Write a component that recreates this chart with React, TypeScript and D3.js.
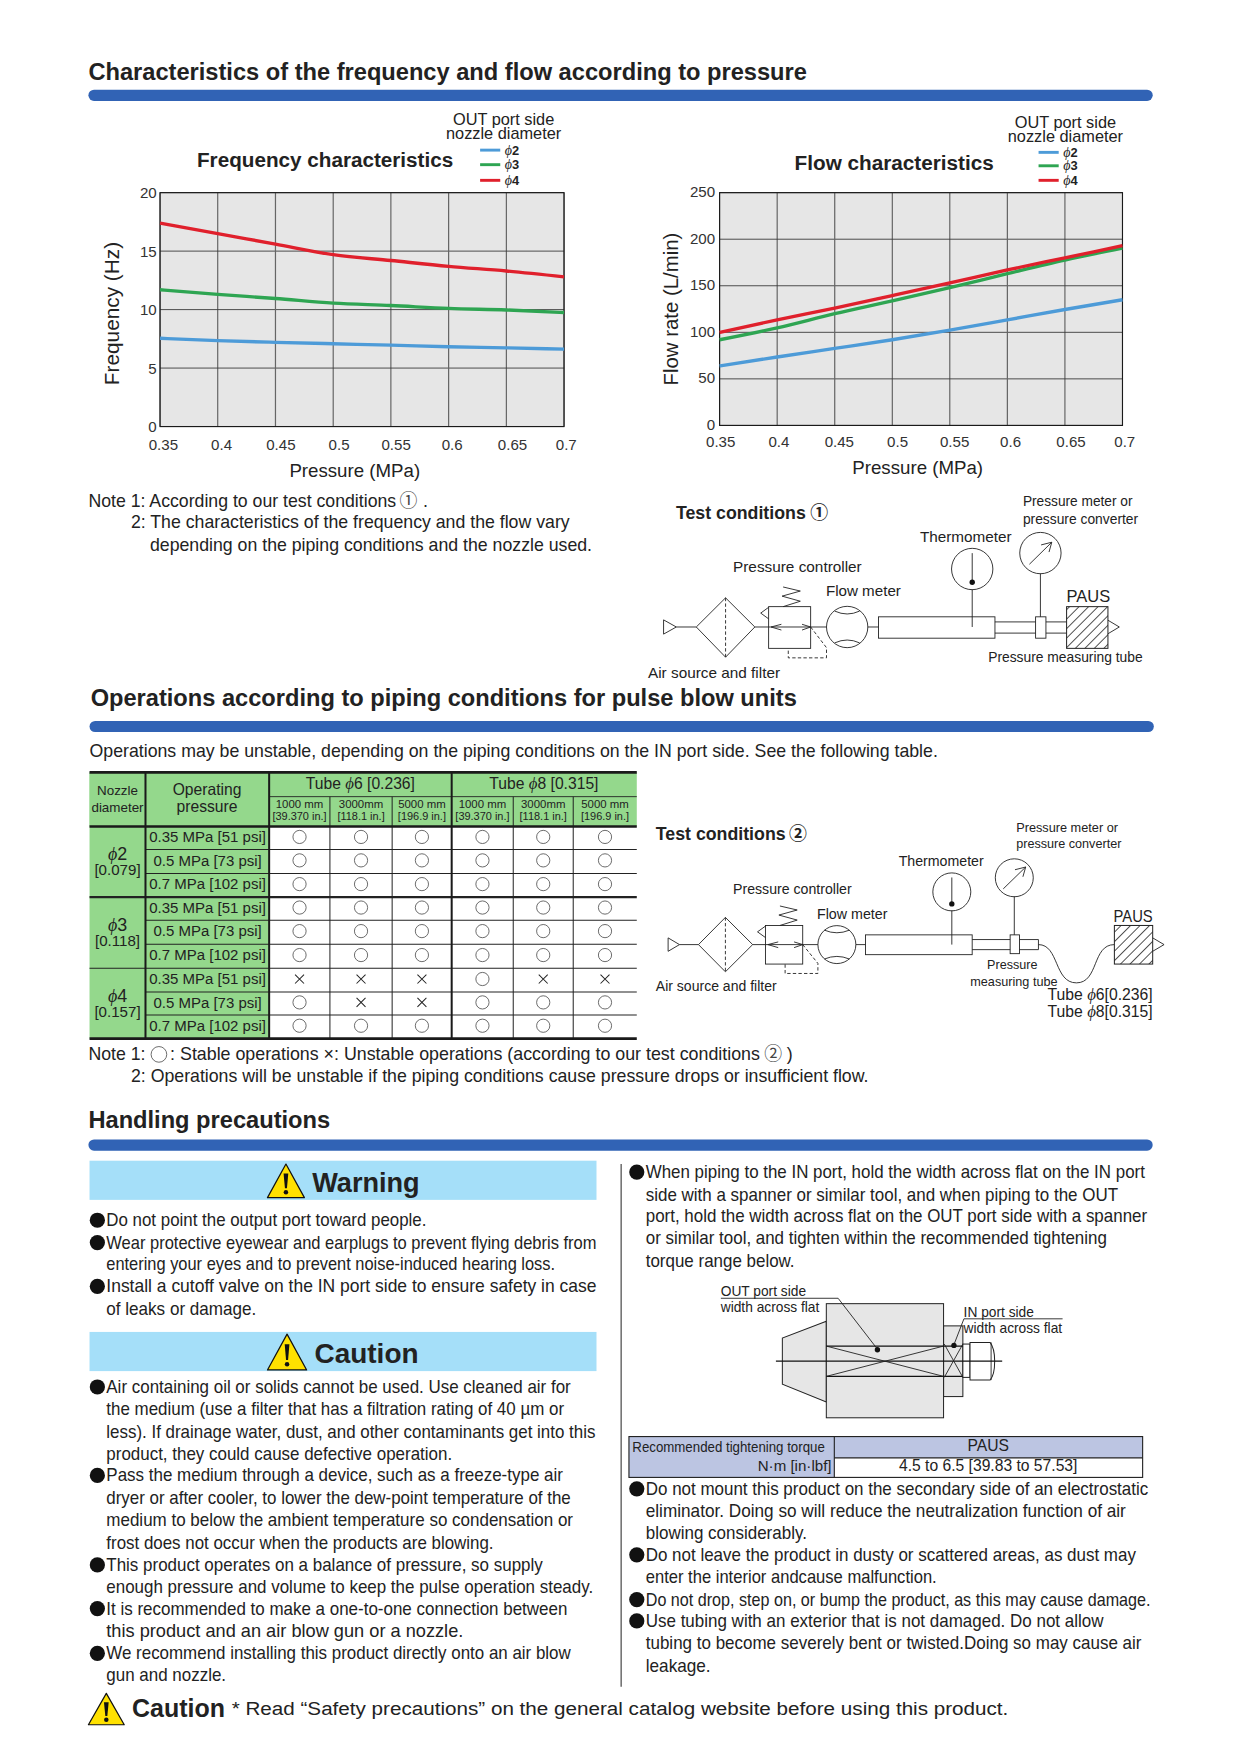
import React from "react";
import * as d3 from "d3";

// ---------- chart data ----------
const PRESSURES = [0.35, 0.4, 0.45, 0.5, 0.55, 0.6, 0.65, 0.7];
const PRESSURE_LABELS = ["0.35", "0.4", "0.45", "0.5", "0.55", "0.6", "0.65", "0.7"];
const FREQ_TICKS = [0, 5, 10, 15, 20];
const FLOW_TICKS = [0, 50, 100, 150, 200, 250];
const FREQ_PHI2 = [7.55, 7.35, 7.2, 7.08, 6.96, 6.82, 6.73, 6.62];
const FREQ_PHI3 = [11.7, 11.3, 10.95, 10.55, 10.35, 10.1, 9.97, 9.75];
const FREQ_PHI4 = [17.4, 16.5, 15.6, 14.7, 14.2, 13.7, 13.3, 12.8];
const FLOW_PHI2 = [63.8, 73.5, 82.7, 92, 102.4, 113.4, 124.5, 135];
const FLOW_PHI3 = [92, 104.8, 120, 133.7, 148, 163, 177.6, 190.4];
const FLOW_PHI4 = [99.9, 113.4, 126, 139.4, 153, 167, 180, 193];
const LEGEND_LABELS = ["2", "3", "4"];
const COLORS = ["#4d9bd8", "#2ea552", "#e0202c"];

// ---------- table data ----------
const TUBE_HEADS = ["6 [0.236]", "8 [0.315]"];
const LENGTH_HEADS = [
  ["1000 mm", "[39.370 in.]"],
  ["3000mm", "[118.1 in.]"],
  ["5000 mm", "[196.9 in.]"],
  ["1000 mm", "[39.370 in.]"],
  ["3000mm", "[118.1 in.]"],
  ["5000 mm", "[196.9 in.]"],
];
const NOZZLES = [["2", "[0.079]"], ["3", "[0.118]"], ["4", "[0.157]"]];
const PRESSURE_ROWS = ["0.35 MPa [51 psi]", "0.5 MPa [73 psi]", "0.7 MPa [102 psi]"];
const STABILITY = [
  [1, 1, 1, 1, 1, 1],
  [1, 1, 1, 1, 1, 1],
  [1, 1, 1, 1, 1, 1],
  [1, 1, 1, 1, 1, 1],
  [1, 1, 1, 1, 1, 1],
  [1, 1, 1, 1, 1, 1],
  [0, 0, 0, 1, 0, 0],
  [1, 0, 0, 1, 1, 1],
  [1, 1, 1, 1, 1, 1],
];

// ---------- text ----------
const LEFT_TEXT = [
  "Do not point the output port toward people.",
  "Wear protective eyewear and earplugs to prevent flying debris from",
  "entering your eyes and to prevent noise-induced hearing loss.",
  "Install a cutoff valve on the IN port side to ensure safety in case",
  "of leaks or damage.",
  "Air containing oil or solids cannot be used. Use cleaned air for",
  "the medium (use a filter that has a filtration rating of 40 µm or",
  "less). If drainage water, dust, and other contaminants get into this",
  "product, they could cause defective operation.",
  "Pass the medium through a device, such as a freeze-type air",
  "dryer or after cooler, to lower the dew-point temperature of the",
  "medium to below the ambient temperature so condensation or",
  "frost does not occur when the products are blowing.",
  "This product operates on a balance of pressure, so supply",
  "enough pressure and volume to keep the pulse operation steady.",
  "It is recommended to make a one-to-one connection between",
  "this product and an air blow gun or a nozzle.",
  "We recommend installing this product directly onto an air blow",
  "gun and nozzle.",
];
const LEFT_LAYOUT = [
  [381, 1091, 1], [533, 1111, 1], [496, 1130, 0], [533, 1150, 1], [229, 1170, 0],
  [510, 1240, 1], [504, 1260, 0], [532, 1280, 0], [404, 1300, 0],
  [503, 1319, 1], [510, 1339, 0], [512, 1359, 0], [441, 1379, 0],
  [485, 1399, 1], [530, 1419, 0], [507, 1438, 1], [414, 1458, 0],
  [510, 1478, 1], [202, 1497, 0],
];
const RIGHT_TEXT = [
  "When piping to the IN port, hold the width across flat on the IN port",
  "side with a spanner or similar tool, and when piping to the OUT",
  "port, hold the width across flat on the OUT port side with a spanner",
  "or similar tool, and tighten within the recommended tightening",
  "torque range below.",
  "Do not mount this product on the secondary side of an electrostatic",
  "eliminator. Doing so will reduce the neutralization function of air",
  "blowing considerably.",
  "Do not leave the product in dusty or scattered areas, as dust may",
  "enter the interior andcause malfunction.",
  "Do not drop, step on, or bump the product, as this may cause damage.",
  "Use tubing with an exterior that is not damaged. Do not allow",
  "tubing to become severely bent or twisted.Doing so may cause air",
  "leakage.",
];
const RIGHT_LAYOUT = [
  [1023, 1048, 1], [999, 1068, 0], [1025, 1087, 0], [989, 1107, 0], [710, 1127, 0],
  [1026, 1331, 1], [1006, 1351, 0], [721, 1370, 0],
  [1015, 1390, 1], [837, 1410, 0], [1028, 1430, 1], [986, 1449, 1], [1020, 1469, 0], [635, 1489, 0],
];

// ---------- helpers ----------
const FONT = "'Liberation Sans', Arial, sans-serif";
const INK = "#222";

function T({ x, y, end, size = 16, weight, anchor, fill = INK, family = FONT, style, rotate, children }: any) {
  return (
    <text
      x={x}
      y={y}
      fontSize={size}
      fontWeight={weight}
      textAnchor={anchor}
      fill={fill}
      fontFamily={family}
      fontStyle={style}
      transform={rotate ? `rotate(${rotate} ${x} ${y})` : undefined}
      textLength={end !== undefined ? end - x : undefined}
      lengthAdjust={end !== undefined ? "spacingAndGlyphs" : undefined}
    >
      {children}
    </text>
  );
}

function Phi({ size }: any) {
  return (
    <tspan fontFamily="'Liberation Serif', 'DejaVu Serif', serif" fontStyle="italic" fontSize={size + 1} fontWeight="normal">
      ϕ
    </tspan>
  );
}

function Bar({ x, y, w }: any) {
  return <rect x={x} y={y} width={w} height={10} rx={5} fill="#3163b5" />;
}

function WarnIcon({ x, y, w, h }: any) {
  const cx = x + w / 2;
  return (
    <g>
      <path d={`M${cx} ${y}L${x + w} ${y + h}L${x} ${y + h}Z`} fill="#ffe100" stroke="#111" strokeWidth={1.1} strokeLinejoin="round" />
      <path d={`M${cx - 2.1} ${y + h * 0.28}L${cx + 2.1} ${y + h * 0.28}L${cx + 0.9} ${y + h * 0.72}L${cx - 0.9} ${y + h * 0.72}Z`} fill="#111" />
      <circle cx={cx} cy={y + h * 0.84} r={2} fill="#111" />
    </g>
  );
}

function Chart({ box, yMax, yTicks, series, xLabelXs, yLabel, yLabelSize, yLabelX, yLabelY, xTitle, xTitleX, xTitleY, tickY, yTickX, yTickDy }: any) {
  const x = d3.scaleLinear().domain([0.35, 0.7]).range([box.l, box.r]);
  const y = d3.scaleLinear().domain([0, yMax]).range([box.b, box.t]);
  const line = d3
    .line<number>()
    .x((_, i) => x(PRESSURES[i]))
    .y((d) => y(d))
    .curve(d3.curveMonotoneX);
  return (
    <g>
      <rect x={box.l} y={box.t} width={box.r - box.l} height={box.b - box.t} fill="#e6e6e6" />
      {yTicks.map((t: number) => (
        <line key={t} x1={box.l} x2={box.r} y1={y(t)} y2={y(t)} stroke="#3a3a3a" strokeWidth={0.8} />
      ))}
      {PRESSURES.map((p, i) => (
        <line key={p} x1={x(p)} x2={x(p)} y1={box.t} y2={box.b} stroke={i === 2 || i === 5 ? "#666" : "#3a3a3a"} strokeWidth={i === 2 || i === 5 ? 1.1 : 0.8} />
      ))}
      <rect x={box.l} y={box.t} width={box.r - box.l} height={box.b - box.t} fill="none" stroke="#1a1a1a" strokeWidth={1} />
      {series.map((s: number[], i: number) => (
        <path key={i} d={line(s) as string} fill="none" stroke={COLORS[i]} strokeWidth={3} />
      ))}
      {yTicks.map((t: number) => (
        <T key={t} x={yTickX} y={y(t) + yTickDy} size={13.5} anchor="end" fill="#333">
          {t}
        </T>
      ))}
      {PRESSURE_LABELS.map((l, i) => (
        <T key={l} x={xLabelXs[i]} y={tickY} size={13.5} anchor="middle" fill="#333">
          {l}
        </T>
      ))}
      <T x={yLabelX} y={yLabelY} size={yLabelSize} anchor="middle" rotate={-90}>
        {yLabel}
      </T>
      <T x={xTitleX} y={xTitleY} size={16.7} anchor="middle">
        {xTitle}
      </T>
    </g>
  );
}

function Legend({ cx, y1, y2, lineX1, lineX2, textX, ys }: any) {
  return (
    <g>
      <T x={cx} y={y1} size={14.6} anchor="middle">OUT port side</T>
      <T x={cx} y={y2} size={14.6} anchor="middle">nozzle diameter</T>
      {LEGEND_LABELS.map((l, i) => (
        <g key={l}>
          <line x1={lineX1} x2={lineX2} y1={ys[i]} y2={ys[i]} stroke={COLORS[i]} strokeWidth={2.6} />
          <T x={textX} y={ys[i] + 4} size={11.5} weight="bold">
            <Phi size={11.5} />
            {l}
          </T>
        </g>
      ))}
    </g>
  );
}

function pathOf(pts: number[][], close = false) {
  return "M" + pts.map((p) => p.join(" ")).join("L") + (close ? "Z" : "");
}

// Schematic drawn in zoom-crop units, mapped to page units
function Schematic({ ax, bx, ay, by, g, hatch }: any) {
  const X = d3.scaleLinear().domain([0, 1]).range([ax, ax + bx]);
  const Y = d3.scaleLinear().domain([0, 1]).range([ay, ay + by]);
  const P = (pts: number[][]) => pts.map(([a, b]) => [X(a), Y(b)]);
  const S = { fill: "none", stroke: "#222", strokeWidth: 0.8 };
  const D = { ...S, strokeDasharray: "3 2" };
  const cy = g.cy;
  const r = g.r * bx;
  return (
    <g>
      <path d={pathOf(P([[g.t0, cy - g.th], [g.t0, cy + g.th], [g.t1, cy]]), true)} {...S} />
      <path d={pathOf(P([[g.t1, cy], [g.dl, cy]]))} {...S} />
      <path d={pathOf(P([[g.dl, cy], [g.dc, g.dt], [g.dr, cy], [g.dc, g.db]]), true)} {...S} />
      <path d={pathOf(P([[g.dc, g.dt], [g.dc, g.db]]))} {...D} />
      <path d={pathOf(P([[g.dr, cy], [g.fc - g.r, cy]]))} {...S} />
      <rect x={X(g.vl)} y={Y(g.vt)} width={X(g.vr) - X(g.vl)} height={Y(g.vb) - Y(g.vt)} {...S} />
      <path d={pathOf(P([[g.vl + 42, g.vt], [g.vl + 92, g.vt - 16], [g.vl + 39, g.vt - 31], [g.vl + 92, g.vt - 46], [g.vl + 42, g.vt - 58]]))} {...S} />
      <path d={pathOf(P([[g.vl, g.vt + 2], [g.vl - 23, g.vt + 19], [g.vl, g.vt + 36]]))} {...S} />
      <path d={pathOf(P([[g.vl + 37, cy - 8], [g.vl + 7, cy], [g.vl + 37, cy + 9]]))} {...S} />
      <path d={pathOf(P([[g.vr - 25, cy - 8], [g.vr, cy], [g.vr - 25, cy + 9]]))} {...S} />
      <path d={pathOf(P([[g.vr, cy], [g.fc - g.r, g.vb - 2], [g.fc - g.r, g.vb + 28], [g.vl + 57, g.vb + 28], [g.vl + 57, g.vb]]))} {...D} />
      <circle cx={X(g.fc)} cy={Y(cy)} r={r} {...S} />
      <path d={`M${X(g.fc - 36)} ${Y(cy - g.r * 0.78)}Q${X(g.fc)} ${Y(cy - g.r * 0.5)} ${X(g.fc + 36)} ${Y(cy - g.r * 0.78)}`} {...S} />
      <path d={`M${X(g.fc - 36)} ${Y(cy + g.r * 0.78)}Q${X(g.fc)} ${Y(cy + g.r * 0.5)} ${X(g.fc + 36)} ${Y(cy + g.r * 0.78)}`} {...S} />
      <path d={pathOf(P([[g.fc + g.r, cy], [g.bl, cy]]))} {...S} />
      <rect x={X(g.bl)} y={Y(g.bt)} width={X(g.br) - X(g.bl)} height={Y(g.bb) - Y(g.bt)} {...S} />
      <path d={pathOf(P([[g.br, g.pt], [g.pe, g.pt]]))} {...S} />
      <path d={pathOf(P([[g.br, g.pb], [g.pe, g.pb]]))} {...S} />
      {g.closePipe && <path d={pathOf(P([[g.pe, g.pt], [g.pe, g.pb]]))} {...S} />}
      <rect x={X(g.cl)} y={Y(g.bt)} width={X(g.cr) - X(g.cl)} height={Y(g.cb) - Y(g.bt)} fill="#fff" stroke="#222" strokeWidth={0.8} />
      {g.tube && <path d={`M${X(g.pe)} ${Y(cy)}C${X(g.pe + 60)} ${Y(cy)} ${X(g.pe + 45)} ${Y(g.tube)} ${X(g.pe + 110)} ${Y(g.tube)}C${X(g.pe + 175)} ${Y(g.tube)} ${X(g.pe + 155)} ${Y(cy)} ${X(g.ul)} ${Y(cy)}`} {...S} />}
      <rect x={X(g.ul)} y={Y(g.vt)} width={X(g.ur) - X(g.ul)} height={Y(g.vb) - Y(g.vt)} fill={`url(#${hatch})`} stroke="#222" strokeWidth={0.9} />
      <path d={pathOf(P([[g.ur, cy - 20], [g.ur + 33, cy], [g.ur, cy + 20]]))} {...S} />
      <circle cx={X(g.tc)} cy={Y(g.ty)} r={r} {...S} />
      <path d={pathOf(P([[g.tc, g.ty - g.r * 0.78], [g.tc, g.ty + g.r * 0.65]]))} {...S} />
      <circle cx={X(g.tc)} cy={Y(g.ty + g.r * 0.65)} r={2.4} fill="#111" />
      <path d={pathOf(P([[g.tc, g.ty + g.r], [g.tc, cy]]))} {...S} />
      <circle cx={X(g.mc)} cy={Y(g.my)} r={r} {...S} />
      <path d={pathOf(P([[g.mc, g.my + g.r], [g.mc, g.bt]]))} {...S} />
      <path d={pathOf(P([[g.mc - 32, g.my + 33], [g.mc + 33, g.my - 32]]))} {...S} />
      <path d={pathOf(P([[g.mc + 2, g.my - 24], [g.mc + 33, g.my - 32], [g.mc + 25, g.my - 3]]))} {...S} />
    </g>
  );
}

function Table() {
  const cols = [80, 130, 240.5, 294.8, 350.4, 403.6, 458.6, 512.2, 569];
  const rows = [738.4, 759, 780.3, 801.4, 822.2, 843.5, 865, 886.3, 906.8, 928];
  const top = 690;
  const sub = 711.7;
  const green = "#94d88c";
  const cellX = (i: number) => (cols[i + 2] + cols[i + 3]) / 2;
  const rowY = (i: number) => (rows[i] + rows[i + 1]) / 2;
  return (
    <g>
      <rect x={cols[0]} y={top} width={cols[8] - cols[0]} height={rows[0] - top} fill={green} />
      <rect x={cols[0]} y={top} width={cols[2] - cols[0]} height={rows[9] - top} fill={green} />
      {rows.slice(1, 9).map((r, i) => (
        <line key={r} x1={i === 2 || i === 5 ? cols[0] : cols[1]} x2={cols[8]} y1={r} y2={r} stroke="#222" strokeWidth={i === 2 ? 2 : 0.9} />
      ))}
      <line x1={cols[2]} x2={cols[8]} y1={sub} y2={sub} stroke="#222" strokeWidth={0.8} />
      {[3, 4, 6, 7].map((c) => (
        <line key={c} x1={cols[c]} x2={cols[c]} y1={sub} y2={rows[9]} stroke="#222" strokeWidth={0.9} />
      ))}
      {[1, 2, 5].map((c) => (
        <line key={c} x1={cols[c]} x2={cols[c]} y1={top} y2={rows[9]} stroke="#1a1a1a" strokeWidth={1.8} />
      ))}
      {[top, rows[0], rows[9]].map((r) => (
        <line key={r} x1={cols[0]} x2={cols[8]} y1={r} y2={r} stroke="#1a1a1a" strokeWidth={2.4} />
      ))}
      <T x={105} y={710} size={12} anchor="middle">Nozzle</T>
      <T x={105} y={725} size={12} anchor="middle">diameter</T>
      <T x={185} y={710} size={14} anchor="middle">Operating</T>
      <T x={185} y={725} size={14} anchor="middle">pressure</T>
      {TUBE_HEADS.map((h, i) => (
        <T key={h} x={i === 0 ? 322 : 486} y={705} size={14} anchor="middle">
          {"Tube "}
          <Phi size={14} />
          {h}
        </T>
      ))}
      {LENGTH_HEADS.map((h, i) => (
        <g key={i}>
          <T x={cellX(i)} y={721.5} size={10.2} anchor="middle">{h[0]}</T>
          <T x={cellX(i)} y={732.5} size={9.8} anchor="middle">{h[1]}</T>
        </g>
      ))}
      {NOZZLES.map((n, i) => (
        <g key={n[0]}>
          <T x={105} y={rows[i * 3] + 30} size={16} anchor="middle">
            <Phi size={15} />
            {n[0]}
          </T>
          <T x={105} y={rows[i * 3] + 43.5} size={13.5} anchor="middle">{n[1]}</T>
        </g>
      ))}
      {d3.range(9).map((r) => (
        <T key={r} x={185.5} y={rowY(r) + 3.8} size={13.4} anchor="middle">
          {PRESSURE_ROWS[r % 3]}
        </T>
      ))}
      {STABILITY.map((row, r) =>
        row.map((v, c) =>
          v ? (
            <circle key={`${r}-${c}`} cx={cellX(c)} cy={rowY(r) - 1} r={5.9} fill="#fff" stroke="#444" strokeWidth={0.7} />
          ) : (
            <path key={`${r}-${c}`} d={`M${cellX(c) - 4} ${rowY(r) - 5}L${cellX(c) + 4} ${rowY(r) + 3}M${cellX(c) + 4} ${rowY(r) - 5}L${cellX(c) - 4} ${rowY(r) + 3}`} stroke="#222" strokeWidth={0.9} />
          )
        )
      )}
    </g>
  );
}

function BodyLines({ text, layout, x, bulletX }: any) {
  return (
    <g>
      {text.map((t: string, i: number) => {
        const [end, y, b] = layout[i];
        return (
          <g key={i}>
            {b ? <circle cx={bulletX} cy={y - 0.8} r={6.8} fill="#111" /> : null}
            <T x={x} y={y + 4.6} end={end} size={16}>{t}</T>
          </g>
        );
      })}
    </g>
  );
}

function WrenchFigure() {
  const X = d3.scaleLinear().domain([0, 1]).range([554.7, 554.7 + 0.3194]);
  const Y = d3.scaleLinear().domain([0, 1]).range([1034.5, 1034.5 + 0.3008]);
  const P = (pts: number[][]) => pts.map(([a, b]) => [X(a), Y(b)]);
  const body = { fill: "#e6e6e6", stroke: "#222", strokeWidth: 0.9 };
  const thin = { fill: "none", stroke: "#222", strokeWidth: 0.8 };
  const thick = { fill: "none", stroke: "#111", strokeWidth: 1.1 };
  const box = (l: number, r: number, t: number, b: number, st: any) => (
    <rect x={X(l)} y={Y(t)} width={X(r) - X(l)} height={Y(b) - Y(t)} {...st} />
  );
  return (
    <g>
      <path d={pathOf(P([[575, 485], [452, 535], [452, 672], [575, 725]]), true)} {...body} />
      {box(903, 957, 499, 709, body)}
      {box(575, 903, 433, 772, body)}
      {box(957, 977, 553, 652, { fill: "#fff", stroke: "#222", strokeWidth: 0.9 })}
      <path d={`M${X(977)} ${Y(548)}L${X(1033)} ${Y(548)}Q${X(1046)} ${Y(565)} ${X(1046)} ${Y(604)}Q${X(1046)} ${Y(645)} ${X(1033)} ${Y(660)}L${X(977)} ${Y(660)}Z`} fill="#fff" stroke="#222" strokeWidth={0.9} />
      <path d={pathOf(P([[1036, 548], [1036, 660]]))} {...thin} />
      <path d={pathOf(P([[434, 604], [1067, 604]]))} {...thick} />
      <path d={pathOf(P([[575, 559], [957, 559]]))} {...thick} />
      <path d={pathOf(P([[575, 649], [957, 649]]))} {...thick} />
      <path d={pathOf(P([[575, 559], [903, 649]]))} {...thin} />
      <path d={pathOf(P([[575, 649], [903, 559]]))} {...thin} />
      <path d={pathOf(P([[905, 553], [957, 652]]))} {...thin} />
      <path d={pathOf(P([[905, 652], [957, 553]]))} {...thin} />
      <path d={pathOf(P([[280, 417], [608, 417], [718, 568]]))} {...thin} />
      <circle cx={X(718)} cy={Y(570)} r={2.4} fill="#111" />
      <path d={pathOf(P([[1236, 478], [960, 478], [932, 555]]))} {...thin} />
      <circle cx={X(932)} cy={Y(557)} r={2.4} fill="#111" />
      <T x={644} y={1157.5} size={12.3}>OUT port side</T>
      <T x={644} y={1172} size={12.3}>width across flat</T>
      <T x={861} y={1176.5} size={12.3}>IN port side</T>
      <T x={861} y={1191} size={12.3}>width across flat</T>
    </g>
  );
}

function TorqueTable() {
  const l = 562, m = 745.5, r = 1021, t = 1283.5, c = 1302.5, b = 1320;
  return (
    <g>
      <rect x={l} y={t} width={r - l} height={c - t} fill="#bcc5e2" />
      <rect x={l} y={t} width={m - l} height={b - t} fill="#bcc5e2" />
      <rect x={l} y={t} width={r - l} height={b - t} fill="none" stroke="#222" strokeWidth={1} />
      <line x1={m} x2={r} y1={c} y2={c} stroke="#222" strokeWidth={1} />
      <line x1={m} x2={m} y1={t} y2={b} stroke="#222" strokeWidth={1} />
      <T x={565} y={1297.5} end={737} size={13}>Recommended tightening torque</T>
      <T x={743} y={1314.5} size={13.5} anchor="end">N·m [in·lbf]</T>
      <T x={883} y={1296.5} size={14} anchor="middle">PAUS</T>
      <T x={883} y={1314.5} size={14} anchor="middle">4.5 to 6.5 [39.83 to 57.53]</T>
    </g>
  );
}

const CIRCLE_FONT = "'Noto Sans CJK JP', sans-serif";

export default function App() {
  const geom1 = { cy: 436, t0: 68, t1: 105, th: 21, dl: 163, dc: 248, dr: 333, dt: 350, db: 525, r: 60, fc: 601, vl: 373, vr: 495, vt: 376, vb: 499, bl: 692, br: 1030, bt: 406, bb: 469, cb: 469, pt: 421, pb: 454, pe: 1238, cl: 1148, cr: 1178, ul: 1238, ur: 1358, tc: 964, ty: 265, mc: 1162, my: 218 };
  const geom2 = { cy: 433, t0: 82, t1: 115, th: 20, dl: 170, dc: 248, dr: 327, dt: 352, db: 514, r: 55, fc: 571, vl: 364, vr: 472, vt: 376, vb: 491, bl: 654, br: 963, bt: 404, bb: 463, cb: 460, pt: 418, pb: 448, pe: 1155, closePipe: true, cl: 1073, cr: 1100, ul: 1375, ur: 1486, tc: 904, ty: 276, mc: 1085, my: 234, tube: 547 };
  return (
    <svg
      width={1240}
      height={1754}
      viewBox="0 0 1108 1567"
      style={{ position: "absolute", left: 0, top: 0, background: "#fff" }}
    >
      <defs>
        <pattern id="hatch" width={6} height={6} patternUnits="userSpaceOnUse" patternTransform="rotate(-45)">
          <rect width={6} height={6} fill="#fff" />
          <line x1={0} x2={6} y1={3} y2={3} stroke="#222" strokeWidth={0.7} />
        </pattern>
      </defs>

      {/* Section 1 */}
      <T x={79} y={71} end={721} size={21.5} weight="bold">Characteristics of the frequency and flow according to pressure</T>
      <Bar x={79} y={80} w={951} />

      <T x={176} y={149} end={405} size={18.5} weight="bold">Frequency characteristics</T>
      <Legend cx={450} y1={112} y2={124.5} lineX1={429} lineX2={447} textX={451} ys={[134, 147, 161]} />
      <Chart
        box={{ l: 143, r: 504, t: 172, b: 381 }}
        yMax={20}
        yTicks={FREQ_TICKS}
        series={[FREQ_PHI2, FREQ_PHI3, FREQ_PHI4]}
        xLabelXs={[146, 198, 251, 303, 354, 404, 458, 506]}
        yLabel="Frequency (Hz)"
        yLabelSize={18.6}
        yLabelX={106}
        yLabelY={280}
        xTitle="Pressure (MPa)"
        xTitleX={317}
        xTitleY={426}
        tickY={402}
        yTickX={140}
        yTickDy={5}
      />

      <T x={710} y={152} end={888} size={18.5} weight="bold">Flow characteristics</T>
      <Legend cx={952} y1={114} y2={126.5} lineX1={928} lineX2={946} textX={950} ys={[136, 148, 161]} />
      <Chart
        box={{ l: 643, r: 1003, t: 172, b: 380 }}
        yMax={250}
        yTicks={FLOW_TICKS}
        series={[FLOW_PHI2, FLOW_PHI3, FLOW_PHI4]}
        xLabelXs={[644, 696, 750, 802, 853, 903, 957, 1005]}
        yLabel="Flow rate (L/min)"
        yLabelSize={18.2}
        yLabelX={606}
        yLabelY={276}
        xTitle="Pressure (MPa)"
        xTitleX={820}
        xTitleY={423}
        tickY={399.5}
        yTickX={639}
        yTickDy={4}
      />

      <T x={79} y={453} end={354} size={16}>Note 1: According to our test conditions</T>
      <T x={357} y={453} size={16} family={CIRCLE_FONT} fill="#444">①</T>
      <T x={378} y={453} size={16}>.</T>
      <T x={117} y={472} end={509} size={16}>2: The characteristics of the frequency and the flow vary</T>
      <T x={134} y={492} end={529} size={16}>depending on the piping conditions and the nozzle used.</T>

      <T x={604} y={464} end={720} size={15.8} weight="bold">Test conditions</T>
      <T x={724} y={464} size={16} family={CIRCLE_FONT} weight="bold">①</T>
      <Schematic ax={572} bx={0.3078} ay={428} by={0.303} g={geom1} hatch="hatch" />
      <T x={914} y={452} end={1012} size={12.5}>Pressure meter or</T>
      <T x={914} y={468} end={1017} size={12.5}>pressure converter</T>
      <T x={822} y={484} end={904} size={13.5}>Thermometer</T>
      <T x={655} y={511} end={770} size={13.5}>Pressure controller</T>
      <T x={738} y={532} end={805} size={13.5}>Flow meter</T>
      <T x={953} y={538} end={992} size={14}>PAUS</T>
      <T x={883} y={591} end={1021} size={12.8}>Pressure measuring tube</T>
      <T x={579} y={606} end={697} size={13}>Air source and filter</T>

      {/* Section 2 */}
      <T x={81} y={631} end={712} size={21.5} weight="bold">Operations according to piping conditions for pulse blow units</T>
      <Bar x={80} y={644} w={951} />
      <T x={80} y={676} end={838} size={16}>Operations may be unstable, depending on the piping conditions on the IN port side. See the following table.</T>

      <Table />

      <T x={79} y={947} end={130} size={16}>Note 1:</T>
      <circle cx={142} cy={942} r={7} fill="none" stroke="#444" strokeWidth={0.7} />
      <T x={152} y={947} end={679} size={16}>: Stable operations ×: Unstable operations (according to our test conditions</T>
      <T x={683} y={947} size={16} family={CIRCLE_FONT} fill="#444">②</T>
      <T x={703} y={947} size={16}>)</T>
      <T x={117} y={967} end={776} size={16}>2: Operations will be unstable if the piping conditions cause pressure drops or insufficient flow.</T>

      <T x={586} y={750} end={702} size={15.8} weight="bold">Test conditions</T>
      <T x={705} y={750} size={16} family={CIRCLE_FONT} weight="bold">②</T>
      <Schematic ax={571.7} bx={0.3084} ay={714} by={0.3} g={geom2} hatch="hatch" />
      <T x={908} y={743} end={999} size={12}>Pressure meter or</T>
      <T x={908} y={758} end={1002} size={12}>pressure converter</T>
      <T x={803} y={774} end={879} size={12.5}>Thermometer</T>
      <T x={655} y={799} end={761} size={12.5}>Pressure controller</T>
      <T x={730} y={821} end={793} size={13}>Flow meter</T>
      <T x={995} y={824} end={1030} size={14}>PAUS</T>
      <T x={882} y={866} end={927} size={12}>Pressure</T>
      <T x={867} y={881} end={945} size={12}>measuring tube</T>
      <T x={586} y={885} end={694} size={12.5}>Air source and filter</T>
      <T x={936} y={893} end={1030} size={14}>Tube <Phi size={14} />6[0.236]</T>
      <T x={936} y={909} end={1030} size={14}>Tube <Phi size={14} />8[0.315]</T>

      {/* Section 3 */}
      <T x={79} y={1008} end={295} size={21.5} weight="bold">Handling precautions</T>
      <Bar x={79} y={1018} w={951} />

      <rect x={80} y={1037} width={453} height={35} fill="#a5dff9" />
      <WarnIcon x={239} y={1040} w={33} h={30} />
      <T x={279} y={1065} end={375} size={25} weight="bold">Warning</T>
      <BodyLines text={LEFT_TEXT.slice(0, 5)} layout={LEFT_LAYOUT.slice(0, 5)} x={95} bulletX={87} />

      <rect x={80} y={1190} width={453} height={35} fill="#a5dff9" />
      <WarnIcon x={239} y={1192} w={35} h={32} />
      <T x={281} y={1218} end={374} size={25} weight="bold">Caution</T>
      <BodyLines text={LEFT_TEXT.slice(5)} layout={LEFT_LAYOUT.slice(5)} x={95} bulletX={87} />

      <line x1={555} x2={555} y1={1040} y2={1507} stroke="#222" strokeWidth={0.9} />

      <BodyLines text={RIGHT_TEXT.slice(0, 5)} layout={RIGHT_LAYOUT.slice(0, 5)} x={577} bulletX={569} />
      <WrenchFigure />
      <TorqueTable />
      <BodyLines text={RIGHT_TEXT.slice(5)} layout={RIGHT_LAYOUT.slice(5)} x={577} bulletX={569} />

      {/* Footer */}
      <WarnIcon x={79} y={1513} w={32} h={28} />
      <T x={118} y={1534} end={201} size={23} weight="bold">Caution</T>
      <T x={207} y={1532} end={901} size={17}>* Read “Safety precautions” on the general catalog website before using this product.</T>
    </svg>
  );
}
